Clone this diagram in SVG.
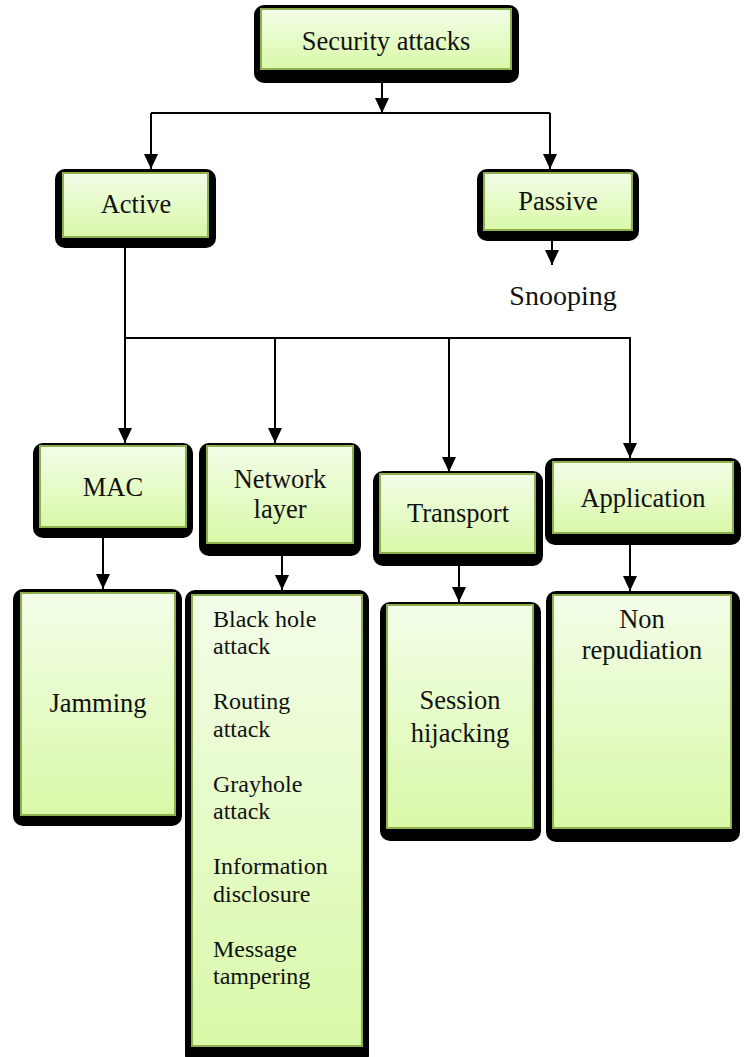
<svg xmlns="http://www.w3.org/2000/svg" width="746" height="1057" viewBox="0 0 746 1057">
<defs>
<linearGradient id="g" x1="0" y1="0" x2="0" y2="1">
<stop offset="0" stop-color="#f3fde8"/>
<stop offset="1" stop-color="#d9f9a8"/>
</linearGradient>
<marker id="ah" markerUnits="userSpaceOnUse" markerWidth="15" markerHeight="14" viewBox="0 0 15 14" refX="15" refY="7" orient="auto">
<path d="M0,0 L15,7 L0,14 z" fill="#000"/>
</marker>
</defs>
<style>
.sh{fill:#000}
.bx{fill:url(#g);stroke:#8db04c;stroke-width:2}
.t{font-family:"Liberation Serif","Times New Roman",serif;font-size:26.5px;fill:#111;text-anchor:middle}
.l{font-family:"Liberation Serif","Times New Roman",serif;font-size:24px;fill:#111}
.c{fill:none;stroke:#000;stroke-width:2}
.a{fill:none;stroke:#000;stroke-width:2;marker-end:url(#ah)}
</style>
<rect width="746" height="1057" fill="#fff"/>
<g id="connectors">
<line class="a" x1="382" y1="70" x2="382" y2="113"/>
<polyline class="c" points="151,113 550,113"/>
<line class="a" x1="151" y1="113" x2="151" y2="169"/>
<line class="a" x1="550" y1="113" x2="550" y2="169"/>
<line class="a" x1="552" y1="230" x2="552" y2="265"/>
<line class="c" x1="125" y1="237" x2="125" y2="338"/>
<line class="c" x1="124" y1="338" x2="631" y2="338"/>
<line class="a" x1="125" y1="338" x2="125" y2="443"/>
<line class="a" x1="275" y1="338" x2="275" y2="443"/>
<line class="a" x1="449" y1="338" x2="449" y2="472"/>
<line class="a" x1="630" y1="338" x2="630" y2="458"/>
<line class="a" x1="103" y1="527" x2="103" y2="589"/>
<line class="a" x1="282" y1="543" x2="282" y2="590"/>
<line class="a" x1="459" y1="553" x2="459" y2="602"/>
<line class="a" x1="630" y1="533" x2="630" y2="591"/>
</g>
<g id="security">
<rect class="sh" x="254" y="5" width="265" height="78" rx="10"/>
<rect class="bx" x="261" y="9" width="250" height="60"/>
<text class="t" x="386" y="50">Security attacks</text>
</g>
<g id="active">
<rect class="sh" x="55" y="169" width="161" height="79" rx="10"/>
<rect class="bx" x="63" y="173" width="145" height="64"/>
<text class="t" x="136" y="213">Active</text>
</g>
<g id="passive">
<rect class="sh" x="477" y="169" width="162" height="72" rx="10"/>
<rect class="bx" x="484" y="173" width="148" height="57"/>
<text class="t" x="558" y="210">Passive</text>
</g>
<g id="snooping">
<text class="t" x="563" y="305" style="font-size:28px">Snooping</text>
</g>
<g id="mac">
<rect class="sh" x="33" y="443" width="160" height="95" rx="10"/>
<rect class="bx" x="40" y="446" width="146" height="81"/>
<text class="t" x="113" y="496">MAC</text>
</g>
<g id="network">
<rect class="sh" x="199" y="443" width="162" height="113" rx="10"/>
<rect class="bx" x="207" y="446" width="146" height="97"/>
<text class="t" x="280" y="488">Network</text>
<text class="t" x="280" y="518">layer</text>
</g>
<g id="transport">
<rect class="sh" x="373" y="471" width="170" height="95" rx="10"/>
<rect class="bx" x="380" y="474" width="155" height="79"/>
<text class="t" x="458" y="522">Transport</text>
</g>
<g id="application">
<rect class="sh" x="545" y="458" width="196" height="87" rx="10"/>
<rect class="bx" x="553" y="462" width="180" height="71"/>
<text class="t" x="643" y="507">Application</text>
</g>
<g id="jamming">
<rect class="sh" x="13" y="589" width="169" height="237" rx="10"/>
<rect class="bx" x="21" y="593" width="154" height="222"/>
<text class="t" x="98" y="712">Jamming</text>
</g>
<g id="network-attacks">
<rect class="sh" x="185" y="590" width="184" height="475" rx="10"/>
<rect class="bx" x="192" y="595" width="170" height="451"/>
<text class="l" x="213" y="627">Black hole</text>
<text class="l" x="213" y="654">attack</text>
<text class="l" x="213" y="709">Routing</text>
<text class="l" x="213" y="737">attack</text>
<text class="l" x="213" y="792">Grayhole</text>
<text class="l" x="213" y="819">attack</text>
<text class="l" x="213" y="874">Information</text>
<text class="l" x="213" y="902">disclosure</text>
<text class="l" x="213" y="957">Message</text>
<text class="l" x="213" y="984">tampering</text>
</g>
<g id="session">
<rect class="sh" x="380" y="602" width="161" height="239" rx="10"/>
<rect class="bx" x="387" y="605" width="146" height="223"/>
<text class="t" x="460" y="709">Session</text>
<text class="t" x="460" y="742">hijacking</text>
</g>
<g id="nonrep">
<rect class="sh" x="546" y="591" width="194" height="251" rx="10"/>
<rect class="bx" x="553" y="595" width="178" height="233"/>
<text class="t" x="642" y="628">Non</text>
<text class="t" x="642" y="659">repudiation</text>
</g>
</svg>
